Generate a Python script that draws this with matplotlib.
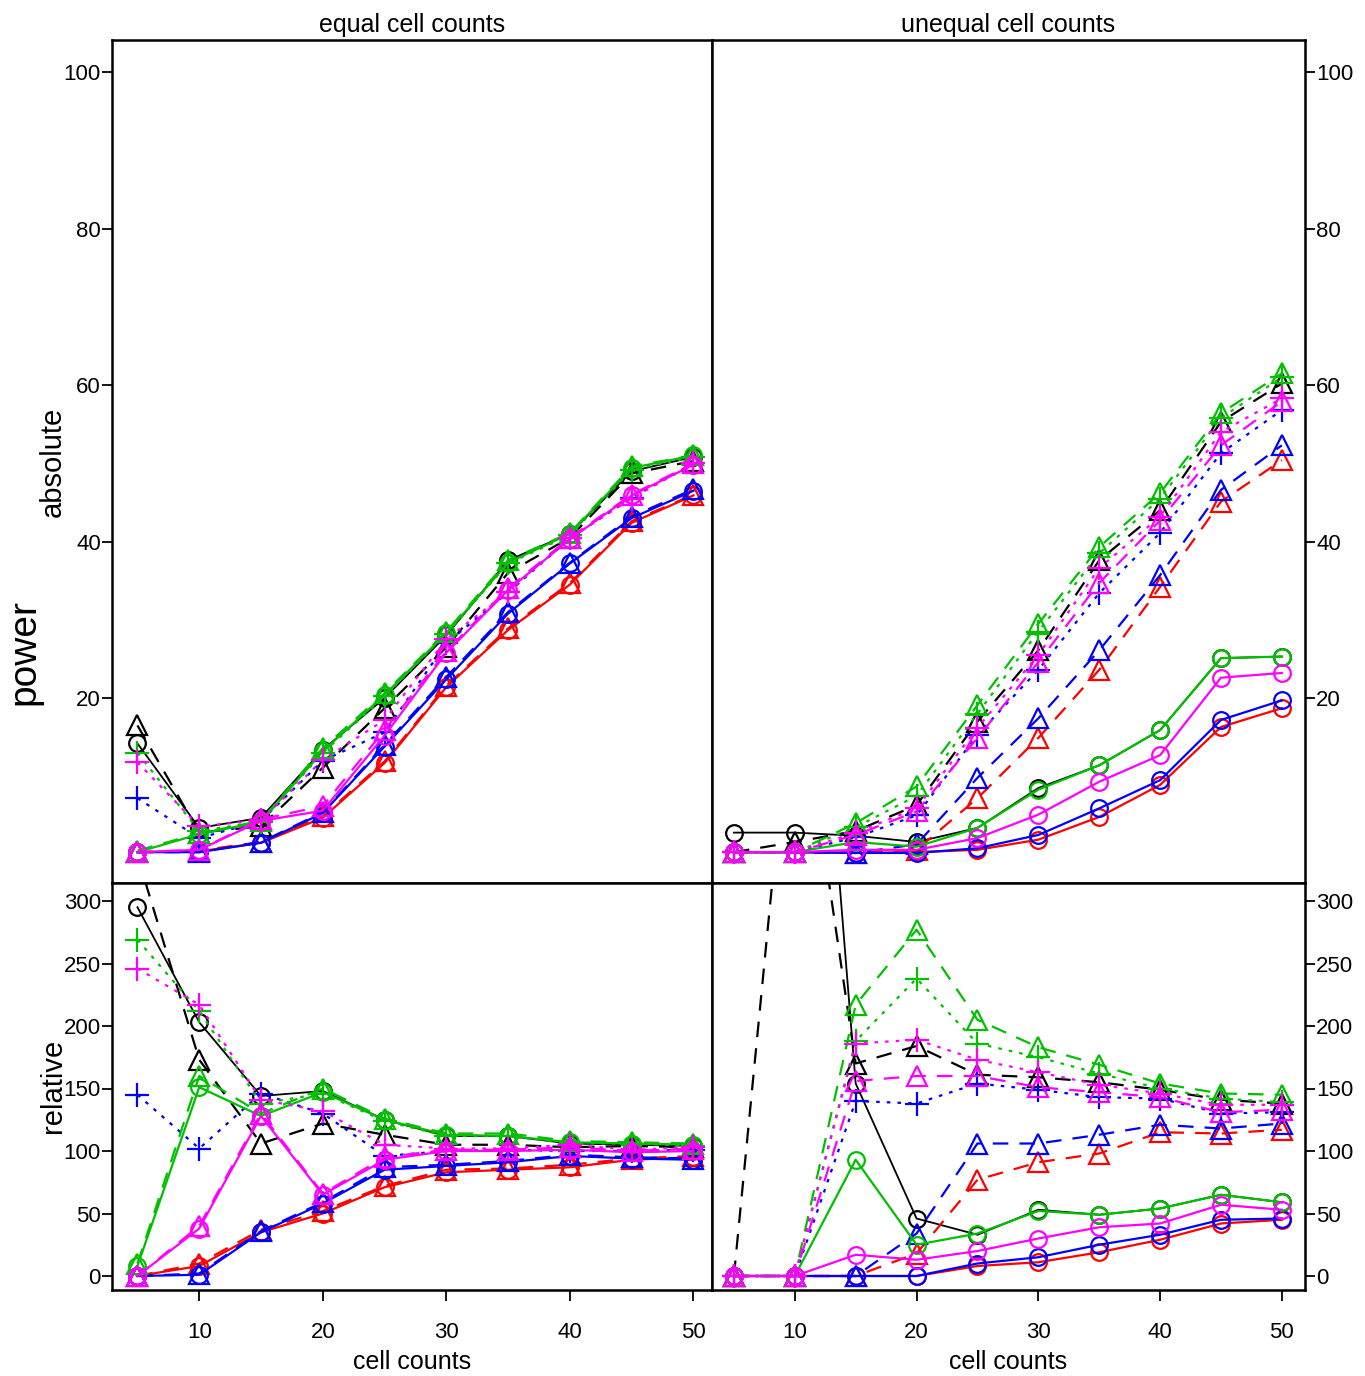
import matplotlib
matplotlib.use("Agg")
import matplotlib.pyplot as plt

plt.rcParams["font.family"] = ["Liberation Sans", "DejaVu Sans"]

cell_counts = [5, 10, 15, 20, 25, 30, 35, 40, 45, 50]

# ---- equal cell counts, absolute power (%) ----
eq_abs_black_o = [14.2, 3.4, 4.7, 13.4, 20.0, 28.0, 37.6, 41.0, 49.0, 50.8]
eq_abs_black_t = [16.5, 2.8, 3.6, 11.1, 18.7, 26.5, 36.0, 40.5, 48.7, 50.3]
eq_abs_green_o = [0.3, 2.6, 4.2, 13.2, 20.4, 28.3, 37.3, 41.0, 49.4, 51.0]
eq_abs_green_t = [0.5, 2.7, 4.3, 13.6, 20.6, 28.5, 37.6, 41.1, 49.6, 51.0]
eq_abs_green_p = [13.0, 3.0, 4.2, 13.0, 20.2, 28.2, 37.2, 40.8, 49.2, 50.8]
eq_abs_magenta_o = [0.3, 0.6, 4.3, 5.6, 15.2, 25.8, 33.8, 40.3, 45.9, 49.8]
eq_abs_magenta_t = [0.3, 0.6, 4.5, 6.2, 15.9, 26.0, 34.0, 40.5, 46.0, 50.0]
eq_abs_magenta_p = [11.8, 3.6, 4.4, 12.1, 17.2, 27.5, 33.6, 40.5, 45.5, 50.0]
eq_abs_blue_o = [0.3, 0.3, 1.5, 5.3, 13.8, 22.4, 30.8, 37.2, 43.0, 46.5]
eq_abs_blue_t = [0.3, 0.3, 1.6, 5.4, 14.0, 22.7, 31.0, 37.3, 43.2, 46.7]
eq_abs_blue_p = [7.2, 2.1, 4.3, 12.0, 15.6, 27.0, 33.5, 40.4, 45.6, 50.0]
eq_abs_red_o = [0.3, 0.4, 1.5, 4.7, 11.7, 21.4, 28.7, 34.5, 42.4, 45.9]
eq_abs_red_t = [0.3, 0.5, 1.6, 4.9, 11.9, 21.6, 28.9, 34.7, 42.6, 46.0]

# ---- equal cell counts, relative power (%) ----
eq_rel_black_o = [295, 203, 144, 148, 125, 112, 112, 106, 105, 104]
eq_rel_black_t = [336, 173, 106, 122, 113, 105, 105, 103, 104, 103]
eq_rel_green_o = [8, 151, 128, 147, 125, 113, 112, 107, 106, 105]
eq_rel_green_t = [10, 160, 130, 150, 126, 114, 114, 108, 107, 106]
eq_rel_green_p = [269, 212, 138, 146, 124, 112, 112, 106, 106, 104]
eq_rel_magenta_o = [0, 38, 128, 65, 93, 100, 100, 101, 99, 100]
eq_rel_magenta_t = [0, 40, 130, 66, 95, 101, 101, 103, 100, 102]
eq_rel_magenta_p = [246, 217, 141, 132, 105, 102, 102, 105, 101, 103]
eq_rel_blue_o = [0, 1, 35, 58, 85, 88, 91, 96, 94, 93]
eq_rel_blue_t = [0, 2, 36, 59, 87, 89, 92, 97, 95, 94]
eq_rel_blue_p = [145, 102, 146, 130, 96, 100, 101, 100, 100, 101]
eq_rel_red_o = [0, 8, 35, 50, 71, 83, 85, 87, 93, 95]
eq_rel_red_t = [0, 10, 37, 52, 72, 85, 86, 89, 94, 96]

# ---- unequal cell counts, absolute power (%) ----
uq_abs_black_o = [2.8, 2.8, 2.4, 1.6, 3.4, 8.5, 11.4, 15.9, 25.1, 25.3]
uq_abs_black_t = [0.3, 1.6, 3.0, 6.3, 17.0, 26.1, 37.6, 44.0, 55.3, 60.2]
uq_abs_green_o = [0.3, 0.3, 1.6, 1.0, 3.4, 8.3, 11.4, 15.9, 25.1, 25.3]
uq_abs_green_t = [0.3, 0.3, 4.0, 8.7, 19.1, 29.5, 39.3, 46.2, 56.4, 61.5]
uq_abs_green_p = [0.3, 0.3, 3.5, 7.5, 18.0, 28.5, 38.5, 45.5, 55.8, 61.0]
uq_abs_magenta_o = [0.3, 0.3, 0.6, 0.6, 2.1, 5.1, 9.3, 12.7, 22.6, 23.2]
uq_abs_magenta_t = [0.3, 0.3, 2.5, 5.5, 14.9, 24.6, 34.7, 42.7, 52.3, 57.9]
uq_abs_magenta_p = [0.3, 0.3, 2.8, 5.9, 16.2, 25.5, 36.6, 43.2, 54.0, 58.3]
uq_abs_blue_o = [0.3, 0.3, 0.2, 0.2, 0.8, 2.5, 5.9, 9.5, 17.2, 19.7]
uq_abs_blue_t = [0.3, 0.3, 0.2, 1.3, 9.8, 17.4, 26.1, 35.7, 46.6, 52.3]
uq_abs_blue_p = [0.3, 0.3, 2.2, 5.0, 15.3, 23.6, 33.4, 41.1, 51.3, 56.8]
uq_abs_red_o = [0.3, 0.3, 0.2, 0.3, 0.6, 1.9, 4.8, 8.9, 16.3, 18.7]
uq_abs_red_t = [0.3, 0.3, 0.2, 0.6, 7.2, 14.9, 23.6, 34.2, 45.1, 50.4]

# ---- unequal cell counts, relative power (%) ----
uq_rel_black_o = [900, 760, 154, 46, 33, 53, 49, 54, 65, 59]
uq_rel_black_t = [0, 500, 170, 184, 161, 159, 155, 149, 141, 138]
uq_rel_green_o = [0, 0, 93, 25, 34, 52, 49, 54, 65, 59]
uq_rel_green_t = [0, 0, 217, 277, 205, 183, 169, 154, 146, 145]
uq_rel_green_p = [0, 0, 188, 238, 186, 175, 162, 150, 142, 139]
uq_rel_magenta_o = [0, 0, 17, 13, 20, 30, 39, 42, 57, 53]
uq_rel_magenta_t = [0, 0, 156, 160, 160, 151, 147, 143, 131, 133]
uq_rel_magenta_p = [0, 0, 186, 189, 173, 163, 153, 146, 137, 137]
uq_rel_blue_o = [0, 0, 0, 0, 10, 15, 25, 33, 45, 46]
uq_rel_blue_t = [0, 0, 0, 34, 106, 106, 113, 121, 118, 122]
uq_rel_blue_p = [0, 0, 140, 138, 154, 149, 143, 142, 130, 131]
uq_rel_red_o = [0, 0, 0, 0, 8, 11, 19, 29, 42, 45]
uq_rel_red_t = [0, 0, 0, 18, 77, 91, 98, 115, 114, 117]

panel_titles = ["equal cell counts", "unequal cell counts"]
abs_ticks = [20, 40, 60, 80, 100]
rel_ticks = [0, 50, 100, 150, 200, 250, 300]
x_ticks = [10, 20, 30, 40, 50]

COLORS = {"black": "#000000", "green": "#00C000", "magenta": "#FF00FF",
          "blue": "#0000FF", "red": "#FF0000"}
STYLES = {
    "o": dict(marker="o", linestyle="-", markersize=12),
    "t": dict(marker="^", linestyle=(0, (7, 5)), markersize=15),
    "p": dict(marker="+", linestyle=(0, (1.6, 3.2)), markersize=17),
}


def series_table(prefix):
    g = globals()
    order = [("black", "o"), ("black", "t"),
             ("red", "o"), ("red", "t"),
             ("blue", "o"), ("blue", "t"), ("blue", "p"),
             ("green", "o"), ("green", "t"), ("green", "p"),
             ("magenta", "o"), ("magenta", "t"), ("magenta", "p")]
    return [(c, k, g[f"{prefix}_{c}_{k}"]) for c, k in order]


def draw(ax, prefix):
    for color, kind, values in series_table(prefix):
        st = STYLES[kind]
        lw = 1.3 if color == "black" and kind == "o" else 1.6
        ax.plot(cell_counts, values, color=COLORS[color], linewidth=lw,
                linestyle=st["linestyle"], marker=st["marker"],
                markersize=st["markersize"], markerfacecolor="none",
                markeredgecolor=COLORS[color], markeredgewidth=1.6,
                clip_on=True)


fig = plt.figure(figsize=(13.65, 13.76), dpi=100)
W, H = 1365.0, 1376.0


def add_axes(x0, y0, x1, y1):
    return fig.add_axes([x0 / W, 1 - y1 / H, (x1 - x0) / W, (y1 - y0) / H])


ax_tl = add_axes(112, 40, 712, 883)
ax_tr = add_axes(712, 40, 1305, 883)
ax_bl = add_axes(112, 883, 712, 1290)
ax_br = add_axes(712, 883, 1305, 1290)

draw(ax_tl, "eq_abs")
draw(ax_tr, "uq_abs")
draw(ax_bl, "eq_rel")
draw(ax_br, "uq_rel")

for ax in (ax_tl, ax_bl):
    ax.set_xlim(2.94, 51.5)
for ax in (ax_tr, ax_br):
    ax.set_xlim(3.2, 51.9)
for ax in (ax_tl, ax_tr):
    ax.set_ylim(-3.64, 104.1)
    ax.set_yticks(abs_ticks)
    ax.set_xticks([])
for ax in (ax_bl, ax_br):
    ax.set_ylim(-11.2, 314.4)
    ax.set_yticks(rel_ticks)
    ax.set_xticks(x_ticks)

for ax in (ax_tl, ax_tr, ax_bl, ax_br):
    for sp in ax.spines.values():
        sp.set_linewidth(1.8)
    ax.tick_params(axis="both", direction="out", length=7, width=1.3,
                   labelsize=16, pad=1)
    ax.tick_params(axis="x", length=8, pad=15)

for ax in (ax_tr, ax_br):
    ax.yaxis.tick_right()

for ax, title in zip((ax_tl, ax_tr), panel_titles):
    ax.set_title(title, fontsize=18, pad=6)

for ax in (ax_bl, ax_br):
    ax.set_xlabel("cell counts", fontsize=18, labelpad=5)

fig.text(53 / W, 1 - 462 / H, "absolute", rotation=90, fontsize=21,
         ha="center", va="center")
fig.text(53 / W, 1 - 1086 / H, "relative", rotation=90, fontsize=21,
         ha="center", va="center")
fig.text(24 / W, 1 - 652 / H, "power", rotation=90, fontsize=28,
         ha="center", va="center")

fig.savefig("out.png", dpi=100)
